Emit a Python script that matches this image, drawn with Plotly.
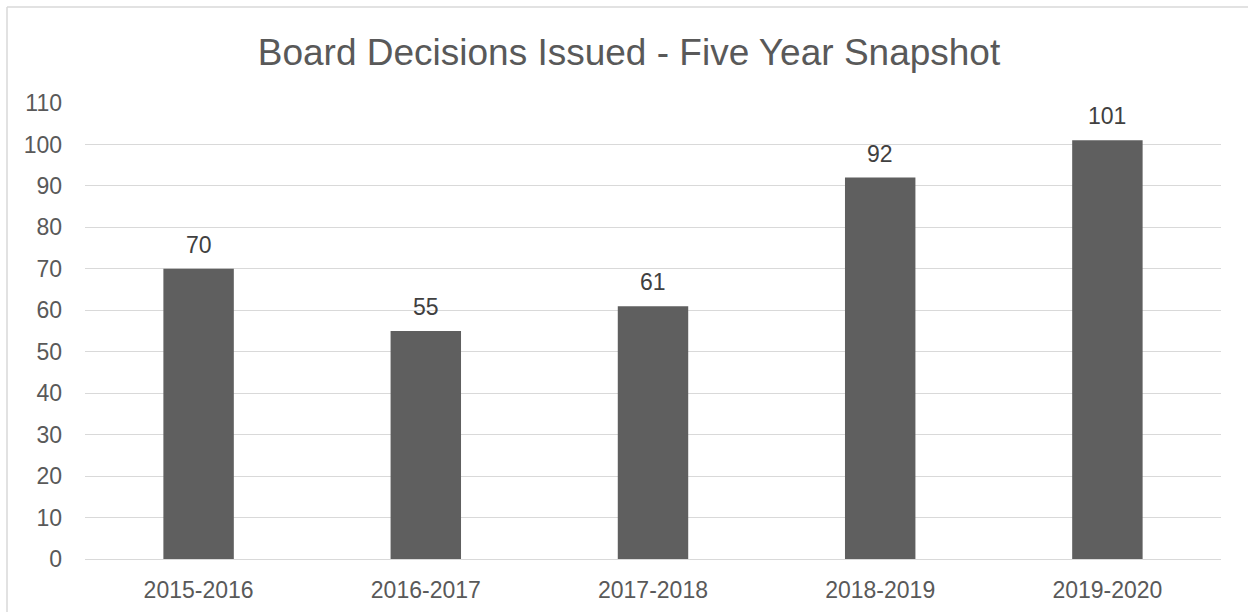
import plotly.graph_objects as go

categories = ["2015-2016", "2016-2017", "2017-2018", "2018-2019", "2019-2020"]
values = [70, 55, 61, 92, 101]
y_ticks = list(range(0, 111, 10))

W, H = 1248, 612
L, R, T, B = 85, 27, 103, 53
pw = W - L - R
ph = H - T - B
FONT = "Liberation Sans, Arial"

fig = go.Figure(go.Bar(
    x=categories, y=values,
    marker=dict(color="#5f5f5f", line=dict(width=0)),
    hoverinfo="x+y",
))

annotations = [
    dict(x=c, y=v, xref="x", yref="y", text=str(v), showarrow=False,
         yanchor="bottom", xanchor="center", yshift=9,
         font=dict(family=FONT, size=23, color="#404040"))
    for c, v in zip(categories, values)
]

fig.update_layout(
    width=W, height=H,
    margin=dict(l=L, r=R, t=T, b=B, autoexpand=False),
    paper_bgcolor="white", plot_bgcolor="white",
    bargap=0.69,
    showlegend=False,
    title=dict(text="Board Decisions Issued - Five Year Snapshot",
               x=629 / W, xanchor="center", y=1 - 52 / H, yanchor="middle",
               font=dict(family=FONT, size=37, color="#595959")),
    font=dict(family=FONT, color="#595959"),
    xaxis=dict(showgrid=False, showline=False, zeroline=False, ticks="",
               automargin=False,
               tickfont=dict(size=23, color="#595959"), ticklabelstandoff=15),
    yaxis=dict(range=[0, 110], tickvals=y_ticks, showgrid=True, gridcolor="#d9d9d9",
               automargin=False,
               gridwidth=1.3, zeroline=True, zerolinecolor="#d9d9d9", zerolinewidth=1.3,
               showline=False, ticks="", tickfont=dict(size=23, color="#595959"),
               ticklabelstandoff=22),
    annotations=annotations,
    shapes=[
        dict(type="line", xref="paper", yref="paper",
             x0=(7 - L) / pw, x1=(W + 20 - L) / pw,
             y0=(H - B - 7) / ph, y1=(H - B - 7) / ph,
             line=dict(color="#d9d9d9", width=1.5)),
        dict(type="line", xref="paper", yref="paper",
             x0=(7 - L) / pw, x1=(7 - L) / pw,
             y0=(H - B - 7) / ph, y1=-(B + 20) / ph,
             line=dict(color="#d9d9d9", width=1.5)),
    ],
)

fig.write_html("out.html")
